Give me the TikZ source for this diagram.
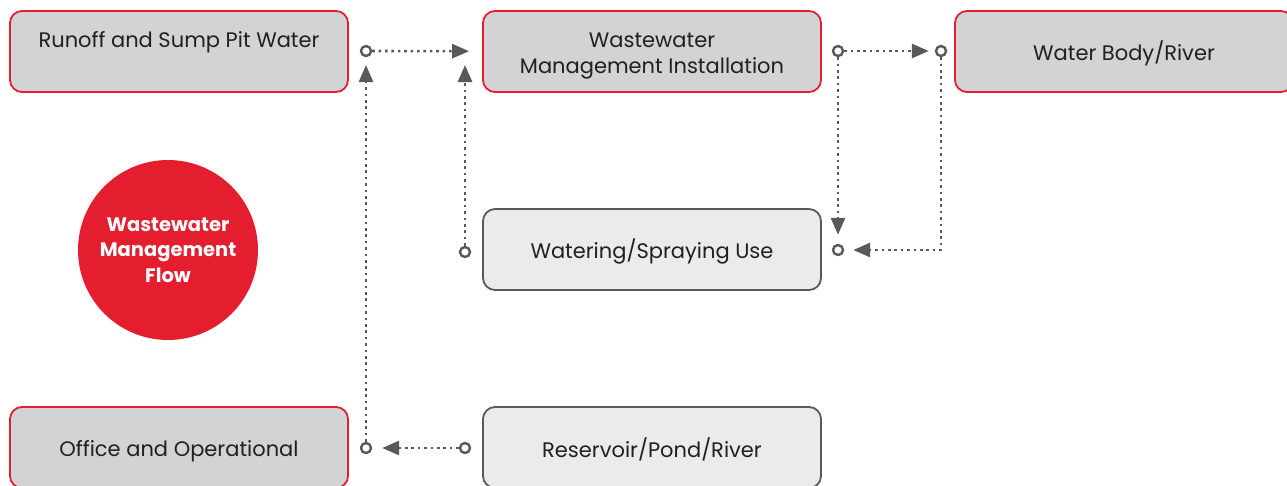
\documentclass[tikz,border=0pt]{standalone}
\usepackage{fontspec}
\setmainfont{Poppins}
\usetikzlibrary{arrows.meta,positioning}
\definecolor{flowred}{HTML}{E41E2F}
\definecolor{boxgray}{HTML}{D1D3D4}
\definecolor{usefill}{HTML}{EBEBEB}
\definecolor{linegray}{HTML}{58595B}
\definecolor{textdark}{HTML}{231F20}
\newcommand{\capstrut}{\rule{0pt}{24pt}}

\begin{document}
\begin{tikzpicture}[
  x=1pt,y=-1pt,
  src/.style={draw=flowred,line width=1.8pt,fill=boxgray,rounded corners=12pt,minimum width=338pt,minimum height=81pt,align=center,
              font=\fontsize{21}{26}\selectfont,text=textdark,execute at begin node={\capstrut}},
  use/.style={src,draw=linegray,fill=usefill},
  port/.style={circle,draw=linegray,line width=2.4pt,fill=white,inner sep=0pt,minimum size=10pt},
  flow/.style={linegray,line width=2.6pt,dash pattern=on 2.6pt off 3.8pt,-{Triangle[length=17pt,width=14pt]}}
]
\useasboundingbox (0,0) rectangle (1287,485);
\clip (0,0) rectangle (1287,485);

% sources and receivers
\node[src] (runoff) at (179,51.5) {\capstrut Runoff and Sump Pit Water\\[6pt]~};
\node[src] (wmi)    at (652,51.5) {\capstrut Wastewater\\Management Installation};
\node[src] (river)  at (1124,51.5) {Water Body/River};
\node[use] (spray)  at (652,249.5) {Watering/Spraying Use};
\node[src] (office) at (179,447.5) {Office and Operational};
\node[use] (pond)   at (652,447.5) {Reservoir/Pond/River};

% title disc
\node[circle,fill=flowred,minimum size=180pt,text=white,align=center,
      font=\bfseries\fontsize{19.5}{25.5}\selectfont] (title) at (168,250) {Wastewater\\Management\\Flow};

% ports
\node[port] (p1) at (366,51)  {};
\node[port] (p2) at (838,51)  {};
\node[port] (p3) at (941,51)  {};
\node[port] (p4) at (838,250) {};
\node[port] (p5) at (465,252) {};
\node[port] (p6) at (465,448) {};
\node[port] (p7) at (366,448) {};
\coordinate (t5) at (465,65);
\coordinate (t7) at (366,65);

% dotted flows
\draw[flow,shorten >=13pt] (p1) -- (wmi);
\draw[flow,shorten >=6pt]  (p2) -- (p3);
\draw[flow,shorten >=9pt]  (p2) -- (p4);
\draw[flow,shorten >=9pt]  (p3) |- (p4);
\draw[flow] (p5) -- (t5);
\draw[flow,shorten >=10pt] (p6) -- (p7);
\draw[flow] (p7) -- (t7);
\end{tikzpicture}
\end{document}
